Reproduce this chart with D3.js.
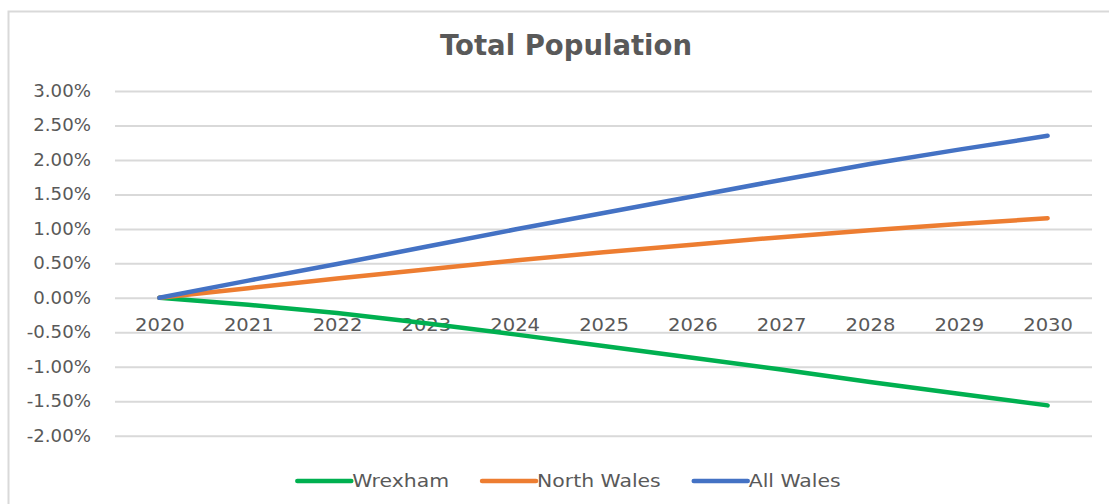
<!DOCTYPE html>
<html>
<head>
<meta charset="utf-8">
<script src="https://cdn.jsdelivr.net/npm/d3@7"></script>
<style>
  body { margin: 0; background: #fff; }
  svg { display: block; }
  text { font-family: "DejaVu Sans", sans-serif; fill: #595959; }
</style>
</head>
<body>
<div class="graph"></div>
<script>
// Data (percent change from 2020)
var years = ['2020', '2021', '2022', '2023', '2024', '2025', '2026', '2027', '2028', '2029', '2030'];
var wrexham = [0, -0.10, -0.22, -0.37, -0.53, -0.70, -0.87, -1.04, -1.22, -1.39, -1.56];
var northWales = [0, 0.14, 0.28, 0.41, 0.54, 0.66, 0.77, 0.88, 0.98, 1.07, 1.155];
var allWales = [0, 0.25, 0.49, 0.74, 0.99, 1.23, 1.47, 1.71, 1.94, 2.15, 2.35];
var seriesNames = ['Wrexham', 'North Wales', 'All Wales'];
var yTicks = [-2, -1.5, -1, -0.5, 0, 0.5, 1, 1.5, 2, 2.5, 3];

var seriesColors = ['#00b050', '#ed7d31', '#4472c4'];
var seriesValues = [wrexham, northWales, allWales];

var svgWidth = 1109;
var svgHeight = 504;

// the screenshot is stretched sideways, so widen the text a bit to match
function stretch(sel, s) {
  sel.each(function() {
    var t = d3.select(this);
    var x0 = +t.attr('x') || 0;
    t.attr('x', x0 / s).attr('transform', 'scale(' + s + ',1)');
  });
}

var svg = d3.select('.graph')
  .append('svg')
  .attr('width', svgWidth)
  .attr('height', svgHeight);

// chart area border (runs off the right / bottom edge like the screenshot)
svg.append('rect')
  .attr('x', 8.5)
  .attr('y', 11.5)
  .attr('width', 1120)
  .attr('height', 520)
  .attr('fill', '#fff')
  .attr('stroke', '#d9d9d9')
  .attr('stroke-width', 2);

// plot area
var plotLeft = 115, plotRight = 1092;
var x = d3.scalePoint().domain(years).range([plotLeft, plotRight]).padding(0.5);
var y = d3.scaleLinear().domain([-2, 3]).range([435.7, 91]);

// gridlines + y labels
var yAxis = svg.append('g')
  .attr('transform', 'translate(' + plotLeft + ',0)')
  .call(d3.axisLeft(y)
    .tickValues(yTicks)
    .tickSize(-(plotRight - plotLeft))
    .tickPadding(24)
    .tickFormat(function(d) { return d.toFixed(2) + '%'; }));
yAxis.select('.domain').remove();
yAxis.selectAll('line').attr('stroke', '#d9d9d9').attr('stroke-width', 2);
yAxis.selectAll('text')
  .attr('font-size', 17)
  .attr('font-family', '"DejaVu Sans", sans-serif')
  .attr('fill', '#595959')
  .call(stretch, 1.07);

// category labels sit just under the zero line
var xAxis = svg.append('g')
  .attr('transform', 'translate(0,' + y(0) + ')')
  .call(d3.axisBottom(x).tickSize(0).tickPadding(21));
xAxis.select('.domain').remove();
xAxis.selectAll('text')
  .attr('font-size', 17)
  .attr('font-family', '"DejaVu Sans", sans-serif')
  .attr('fill', '#595959')
  .call(stretch, 1.15);

// the three lines, blue drawn last so it sits on top at 2020
var line = d3.line()
  .x(function(d, i) { return x(years[i]); })
  .y(function(d) { return y(d); });

svg.selectAll('.series')
  .data(seriesValues)
  .enter()
  .append('path')
  .attr('class', 'series')
  .attr('d', line)
  .attr('fill', 'none')
  .attr('stroke', function(d, i) { return seriesColors[i]; })
  .attr('stroke-width', 4.5)
  .attr('stroke-linecap', 'round')
  .attr('stroke-linejoin', 'round');

// title
svg.append('text')
  .attr('x', 566)
  .attr('y', 55)
  .attr('text-anchor', 'middle')
  .attr('font-size', 27.5)
  .attr('font-weight', 'bold')
  .attr('font-family', '"Liberation Sans", Arial, sans-serif')
  .attr('fill', '#595959')
  .text('Total Population');

// legend - lay it out left to right, then centre the group
var legend = svg.append('g');
var swatch = 56, legendX = 0, legendStretch = 1.2;
seriesNames.forEach(function(name, i) {
  var item = legend.append('g').attr('transform', 'translate(' + legendX + ',0)');
  item.append('line')
    .attr('x1', 2).attr('x2', swatch)
    .attr('y1', 0).attr('y2', 0)
    .attr('stroke', seriesColors[i])
    .attr('stroke-width', 4.5)
    .attr('stroke-linecap', 'round');
  var t = item.append('text')
    .attr('x', swatch + 1)
    .attr('dy', '0.36em')
    .attr('font-size', 17)
    .text(name)
    .call(stretch, legendStretch);
  legendX += swatch + 1 + t.node().getComputedTextLength() * legendStretch + 31;
});
legendX -= 31;
legend.attr('transform', 'translate(' + (568 - legendX / 2) + ',481)');
</script>
</body>
</html>
